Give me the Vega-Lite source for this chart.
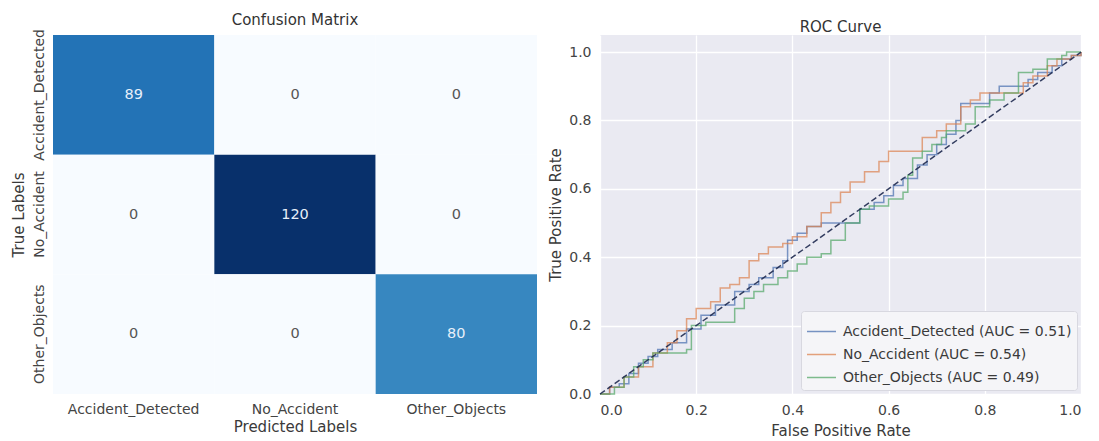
{
  "$schema": "https://vega.github.io/schema/vega-lite/v6.json",
  "padding": {"left": 10, "top": 12, "right": 3, "bottom": 0},
  "spacing": 11,
  "config": {
    "font": "DejaVu Sans",
    "view": {"stroke": null},
    "title": {"fontSize": 15, "fontWeight": "normal", "color": "#333333"},
    "axis": {"labelColor": "#444444", "titleColor": "#3a3a3a", "titleFontWeight": "normal", "labelFontSize": 14, "titleFontSize": 15, "domain": false, "ticks": false}
  },
  "hconcat": [
    {
      "title": {"text": "Confusion Matrix", "offset": 1},
      "width": 484,
      "height": 359,
      "data": {"values": [
        {"true": "Accident_Detected", "pred": "Accident_Detected", "n": 89},
        {"true": "Accident_Detected", "pred": "No_Accident", "n": 0},
        {"true": "Accident_Detected", "pred": "Other_Objects", "n": 0},
        {"true": "No_Accident", "pred": "Accident_Detected", "n": 0},
        {"true": "No_Accident", "pred": "No_Accident", "n": 120},
        {"true": "No_Accident", "pred": "Other_Objects", "n": 0},
        {"true": "Other_Objects", "pred": "Accident_Detected", "n": 0},
        {"true": "Other_Objects", "pred": "No_Accident", "n": 0},
        {"true": "Other_Objects", "pred": "Other_Objects", "n": 80}
      ]},
      "encoding": {
        "x": {"field": "pred", "type": "nominal", "sort": ["Accident_Detected", "No_Accident", "Other_Objects"],
              "scale": {"paddingInner": 0, "paddingOuter": 0},
              "axis": {"title": "Predicted Labels", "labelAngle": 0, "labelPadding": 8, "titlePadding": 3, "grid": false}},
        "y": {"field": "true", "type": "nominal", "sort": ["Accident_Detected", "No_Accident", "Other_Objects"],
              "scale": {"paddingInner": 0, "paddingOuter": 0},
              "axis": {"title": "True Labels", "labelAngle": -90, "labelAlign": "center", "labelBaseline": "bottom", "labelPadding": 7, "labelLimit": 300, "labelOverlap": false, "titlePadding": 6, "grid": false}}
      },
      "layer": [
        {"mark": {"type": "rect"},
         "encoding": {"color": {"field": "n", "type": "quantitative", "legend": null,
           "scale": {"domain": [0, 15, 30, 45, 60, 75, 90, 105, 120],
                     "range": ["#f7fbff", "#deebf7", "#c6dbef", "#9ecae1", "#6baed6", "#4292c6", "#2171b5", "#08519c", "#08306b"],
                     "interpolate": "rgb"}}}},
        {"mark": {"type": "text", "fontSize": 14.5},
         "encoding": {"text": {"field": "n", "type": "quantitative"},
           "color": {"condition": {"test": "datum.n > 60", "value": "#e6effa"}, "value": "#555555"}}}
      ]
    },
    {
      "title": {"text": "ROC Curve", "offset": 0},
      "width": 481,
      "height": 359,
      "view": {"fill": "#EAEAF2", "stroke": null},
      "layer": [
        {
          "data": {"values": [
            {"s": "Accident_Detected (AUC = 0.51)", "fpr": 0, "tpr": 0},
            {"s": "Accident_Detected (AUC = 0.51)", "fpr": 0.02, "tpr": 0.02},
            {"s": "Accident_Detected (AUC = 0.51)", "fpr": 0.04, "tpr": 0.03},
            {"s": "Accident_Detected (AUC = 0.51)", "fpr": 0.06, "tpr": 0.06},
            {"s": "Accident_Detected (AUC = 0.51)", "fpr": 0.08, "tpr": 0.09},
            {"s": "Accident_Detected (AUC = 0.51)", "fpr": 0.10, "tpr": 0.11},
            {"s": "Accident_Detected (AUC = 0.51)", "fpr": 0.12, "tpr": 0.13},
            {"s": "Accident_Detected (AUC = 0.51)", "fpr": 0.15, "tpr": 0.15},
            {"s": "Accident_Detected (AUC = 0.51)", "fpr": 0.18, "tpr": 0.19},
            {"s": "Accident_Detected (AUC = 0.51)", "fpr": 0.21, "tpr": 0.23},
            {"s": "Accident_Detected (AUC = 0.51)", "fpr": 0.24, "tpr": 0.26},
            {"s": "Accident_Detected (AUC = 0.51)", "fpr": 0.28, "tpr": 0.30},
            {"s": "Accident_Detected (AUC = 0.51)", "fpr": 0.31, "tpr": 0.32},
            {"s": "Accident_Detected (AUC = 0.51)", "fpr": 0.33, "tpr": 0.34},
            {"s": "Accident_Detected (AUC = 0.51)", "fpr": 0.36, "tpr": 0.37},
            {"s": "Accident_Detected (AUC = 0.51)", "fpr": 0.38, "tpr": 0.39},
            {"s": "Accident_Detected (AUC = 0.51)", "fpr": 0.39, "tpr": 0.45},
            {"s": "Accident_Detected (AUC = 0.51)", "fpr": 0.41, "tpr": 0.47},
            {"s": "Accident_Detected (AUC = 0.51)", "fpr": 0.43, "tpr": 0.49},
            {"s": "Accident_Detected (AUC = 0.51)", "fpr": 0.46, "tpr": 0.50},
            {"s": "Accident_Detected (AUC = 0.51)", "fpr": 0.51, "tpr": 0.50},
            {"s": "Accident_Detected (AUC = 0.51)", "fpr": 0.54, "tpr": 0.54},
            {"s": "Accident_Detected (AUC = 0.51)", "fpr": 0.57, "tpr": 0.56},
            {"s": "Accident_Detected (AUC = 0.51)", "fpr": 0.59, "tpr": 0.58},
            {"s": "Accident_Detected (AUC = 0.51)", "fpr": 0.61, "tpr": 0.61},
            {"s": "Accident_Detected (AUC = 0.51)", "fpr": 0.63, "tpr": 0.63},
            {"s": "Accident_Detected (AUC = 0.51)", "fpr": 0.66, "tpr": 0.67},
            {"s": "Accident_Detected (AUC = 0.51)", "fpr": 0.68, "tpr": 0.70},
            {"s": "Accident_Detected (AUC = 0.51)", "fpr": 0.70, "tpr": 0.73},
            {"s": "Accident_Detected (AUC = 0.51)", "fpr": 0.72, "tpr": 0.76},
            {"s": "Accident_Detected (AUC = 0.51)", "fpr": 0.74, "tpr": 0.80},
            {"s": "Accident_Detected (AUC = 0.51)", "fpr": 0.75, "tpr": 0.85},
            {"s": "Accident_Detected (AUC = 0.51)", "fpr": 0.79, "tpr": 0.85},
            {"s": "Accident_Detected (AUC = 0.51)", "fpr": 0.81, "tpr": 0.88},
            {"s": "Accident_Detected (AUC = 0.51)", "fpr": 0.83, "tpr": 0.90},
            {"s": "Accident_Detected (AUC = 0.51)", "fpr": 0.87, "tpr": 0.90},
            {"s": "Accident_Detected (AUC = 0.51)", "fpr": 0.89, "tpr": 0.92},
            {"s": "Accident_Detected (AUC = 0.51)", "fpr": 0.91, "tpr": 0.94},
            {"s": "Accident_Detected (AUC = 0.51)", "fpr": 0.94, "tpr": 0.96},
            {"s": "Accident_Detected (AUC = 0.51)", "fpr": 0.96, "tpr": 0.98},
            {"s": "Accident_Detected (AUC = 0.51)", "fpr": 0.98, "tpr": 0.99},
            {"s": "Accident_Detected (AUC = 0.51)", "fpr": 1, "tpr": 1},
            {"s": "No_Accident (AUC = 0.54)", "fpr": 0, "tpr": 0},
            {"s": "No_Accident (AUC = 0.54)", "fpr": 0.02, "tpr": 0.02},
            {"s": "No_Accident (AUC = 0.54)", "fpr": 0.05, "tpr": 0.05},
            {"s": "No_Accident (AUC = 0.54)", "fpr": 0.08, "tpr": 0.08},
            {"s": "No_Accident (AUC = 0.54)", "fpr": 0.11, "tpr": 0.12},
            {"s": "No_Accident (AUC = 0.54)", "fpr": 0.14, "tpr": 0.15},
            {"s": "No_Accident (AUC = 0.54)", "fpr": 0.16, "tpr": 0.185},
            {"s": "No_Accident (AUC = 0.54)", "fpr": 0.18, "tpr": 0.22},
            {"s": "No_Accident (AUC = 0.54)", "fpr": 0.20, "tpr": 0.25},
            {"s": "No_Accident (AUC = 0.54)", "fpr": 0.23, "tpr": 0.27},
            {"s": "No_Accident (AUC = 0.54)", "fpr": 0.25, "tpr": 0.31},
            {"s": "No_Accident (AUC = 0.54)", "fpr": 0.27, "tpr": 0.32},
            {"s": "No_Accident (AUC = 0.54)", "fpr": 0.29, "tpr": 0.34},
            {"s": "No_Accident (AUC = 0.54)", "fpr": 0.31, "tpr": 0.39},
            {"s": "No_Accident (AUC = 0.54)", "fpr": 0.33, "tpr": 0.41},
            {"s": "No_Accident (AUC = 0.54)", "fpr": 0.35, "tpr": 0.43},
            {"s": "No_Accident (AUC = 0.54)", "fpr": 0.38, "tpr": 0.44},
            {"s": "No_Accident (AUC = 0.54)", "fpr": 0.40, "tpr": 0.46},
            {"s": "No_Accident (AUC = 0.54)", "fpr": 0.43, "tpr": 0.49},
            {"s": "No_Accident (AUC = 0.54)", "fpr": 0.46, "tpr": 0.53},
            {"s": "No_Accident (AUC = 0.54)", "fpr": 0.48, "tpr": 0.56},
            {"s": "No_Accident (AUC = 0.54)", "fpr": 0.50, "tpr": 0.59},
            {"s": "No_Accident (AUC = 0.54)", "fpr": 0.52, "tpr": 0.62},
            {"s": "No_Accident (AUC = 0.54)", "fpr": 0.55, "tpr": 0.65},
            {"s": "No_Accident (AUC = 0.54)", "fpr": 0.58, "tpr": 0.68},
            {"s": "No_Accident (AUC = 0.54)", "fpr": 0.60, "tpr": 0.71},
            {"s": "No_Accident (AUC = 0.54)", "fpr": 0.65, "tpr": 0.71},
            {"s": "No_Accident (AUC = 0.54)", "fpr": 0.67, "tpr": 0.75},
            {"s": "No_Accident (AUC = 0.54)", "fpr": 0.70, "tpr": 0.77},
            {"s": "No_Accident (AUC = 0.54)", "fpr": 0.72, "tpr": 0.79},
            {"s": "No_Accident (AUC = 0.54)", "fpr": 0.75, "tpr": 0.84},
            {"s": "No_Accident (AUC = 0.54)", "fpr": 0.77, "tpr": 0.86},
            {"s": "No_Accident (AUC = 0.54)", "fpr": 0.79, "tpr": 0.88},
            {"s": "No_Accident (AUC = 0.54)", "fpr": 0.85, "tpr": 0.88},
            {"s": "No_Accident (AUC = 0.54)", "fpr": 0.88, "tpr": 0.91},
            {"s": "No_Accident (AUC = 0.54)", "fpr": 0.90, "tpr": 0.93},
            {"s": "No_Accident (AUC = 0.54)", "fpr": 0.93, "tpr": 0.96},
            {"s": "No_Accident (AUC = 0.54)", "fpr": 0.95, "tpr": 0.98},
            {"s": "No_Accident (AUC = 0.54)", "fpr": 0.98, "tpr": 0.99},
            {"s": "No_Accident (AUC = 0.54)", "fpr": 1, "tpr": 1},
            {"s": "Other_Objects (AUC = 0.49)", "fpr": 0, "tpr": 0},
            {"s": "Other_Objects (AUC = 0.49)", "fpr": 0.03, "tpr": 0.02},
            {"s": "Other_Objects (AUC = 0.49)", "fpr": 0.05, "tpr": 0.05},
            {"s": "Other_Objects (AUC = 0.49)", "fpr": 0.07, "tpr": 0.08},
            {"s": "Other_Objects (AUC = 0.49)", "fpr": 0.09, "tpr": 0.10},
            {"s": "Other_Objects (AUC = 0.49)", "fpr": 0.11, "tpr": 0.12},
            {"s": "Other_Objects (AUC = 0.49)", "fpr": 0.15, "tpr": 0.12},
            {"s": "Other_Objects (AUC = 0.49)", "fpr": 0.18, "tpr": 0.13},
            {"s": "Other_Objects (AUC = 0.49)", "fpr": 0.19, "tpr": 0.20},
            {"s": "Other_Objects (AUC = 0.49)", "fpr": 0.22, "tpr": 0.21},
            {"s": "Other_Objects (AUC = 0.49)", "fpr": 0.27, "tpr": 0.21},
            {"s": "Other_Objects (AUC = 0.49)", "fpr": 0.28, "tpr": 0.25},
            {"s": "Other_Objects (AUC = 0.49)", "fpr": 0.30, "tpr": 0.28},
            {"s": "Other_Objects (AUC = 0.49)", "fpr": 0.32, "tpr": 0.30},
            {"s": "Other_Objects (AUC = 0.49)", "fpr": 0.34, "tpr": 0.32},
            {"s": "Other_Objects (AUC = 0.49)", "fpr": 0.37, "tpr": 0.34},
            {"s": "Other_Objects (AUC = 0.49)", "fpr": 0.39, "tpr": 0.36},
            {"s": "Other_Objects (AUC = 0.49)", "fpr": 0.41, "tpr": 0.38},
            {"s": "Other_Objects (AUC = 0.49)", "fpr": 0.43, "tpr": 0.40},
            {"s": "Other_Objects (AUC = 0.49)", "fpr": 0.46, "tpr": 0.41},
            {"s": "Other_Objects (AUC = 0.49)", "fpr": 0.48, "tpr": 0.45},
            {"s": "Other_Objects (AUC = 0.49)", "fpr": 0.51, "tpr": 0.50},
            {"s": "Other_Objects (AUC = 0.49)", "fpr": 0.54, "tpr": 0.54},
            {"s": "Other_Objects (AUC = 0.49)", "fpr": 0.56, "tpr": 0.55},
            {"s": "Other_Objects (AUC = 0.49)", "fpr": 0.58, "tpr": 0.55},
            {"s": "Other_Objects (AUC = 0.49)", "fpr": 0.60, "tpr": 0.57},
            {"s": "Other_Objects (AUC = 0.49)", "fpr": 0.63, "tpr": 0.59},
            {"s": "Other_Objects (AUC = 0.49)", "fpr": 0.64, "tpr": 0.64},
            {"s": "Other_Objects (AUC = 0.49)", "fpr": 0.65, "tpr": 0.69},
            {"s": "Other_Objects (AUC = 0.49)", "fpr": 0.67, "tpr": 0.71},
            {"s": "Other_Objects (AUC = 0.49)", "fpr": 0.69, "tpr": 0.73},
            {"s": "Other_Objects (AUC = 0.49)", "fpr": 0.71, "tpr": 0.75},
            {"s": "Other_Objects (AUC = 0.49)", "fpr": 0.72, "tpr": 0.77},
            {"s": "Other_Objects (AUC = 0.49)", "fpr": 0.76, "tpr": 0.79},
            {"s": "Other_Objects (AUC = 0.49)", "fpr": 0.78, "tpr": 0.84},
            {"s": "Other_Objects (AUC = 0.49)", "fpr": 0.81, "tpr": 0.86},
            {"s": "Other_Objects (AUC = 0.49)", "fpr": 0.84, "tpr": 0.88},
            {"s": "Other_Objects (AUC = 0.49)", "fpr": 0.87, "tpr": 0.94},
            {"s": "Other_Objects (AUC = 0.49)", "fpr": 0.90, "tpr": 0.95},
            {"s": "Other_Objects (AUC = 0.49)", "fpr": 0.93, "tpr": 0.98},
            {"s": "Other_Objects (AUC = 0.49)", "fpr": 0.96, "tpr": 0.99},
            {"s": "Other_Objects (AUC = 0.49)", "fpr": 0.97, "tpr": 1.0},
            {"s": "Other_Objects (AUC = 0.49)", "fpr": 1, "tpr": 1}
          ]},
          "mark": {"type": "line", "interpolate": "step-after", "strokeWidth": 1.5, "opacity": 0.72},
          "encoding": {
            "x": {"field": "fpr", "type": "quantitative", "scale": {"domain": [0, 1], "nice": false},
                  "axis": {"title": "False Positive Rate", "values": [0, 0.2, 0.4, 0.6, 0.8, 1.0], "format": ".1f", "grid": true, "gridColor": "#ffffff", "gridWidth": 1.3, "labelPadding": 9, "titlePadding": 6}},
            "y": {"field": "tpr", "type": "quantitative", "scale": {"domain": [0, 1.05], "nice": false},
                  "axis": {"title": "True Positive Rate", "values": [0, 0.2, 0.4, 0.6, 0.8, 1.0], "format": ".1f", "grid": true, "gridColor": "#ffffff", "gridWidth": 1.3, "labelPadding": 9, "titlePadding": 5}},
            "color": {"field": "s", "type": "nominal",
                      "scale": {"domain": ["Accident_Detected (AUC = 0.51)", "No_Accident (AUC = 0.54)", "Other_Objects (AUC = 0.49)"],
                                "range": ["#4C72B0", "#DD8452", "#55A868"]},
                      "legend": {"title": null, "orient": "bottom-right", "offset": 4, "symbolType": "stroke", "symbolSize": 841, "symbolStrokeWidth": 1.5, "symbolOpacity": 0.75,
                                 "labelFontSize": 14, "labelColor": "#3a3a3a", "labelLimit": 400, "labelOffset": 6, "rowPadding": -7.5, "padding": 5,
                                 "fillColor": "#f5f5f8", "strokeColor": "#d8d8e0", "cornerRadius": 3}}
          }
        },
        {
          "data": {"values": [{"fpr": 0, "tpr": 0}, {"fpr": 1, "tpr": 1}]},
          "mark": {"type": "line", "color": "#1f2a50", "strokeDash": [6, 3], "strokeWidth": 1.5, "opacity": 0.9},
          "encoding": {
            "x": {"field": "fpr", "type": "quantitative"},
            "y": {"field": "tpr", "type": "quantitative"}
          }
        }
      ]
    }
  ]
}
